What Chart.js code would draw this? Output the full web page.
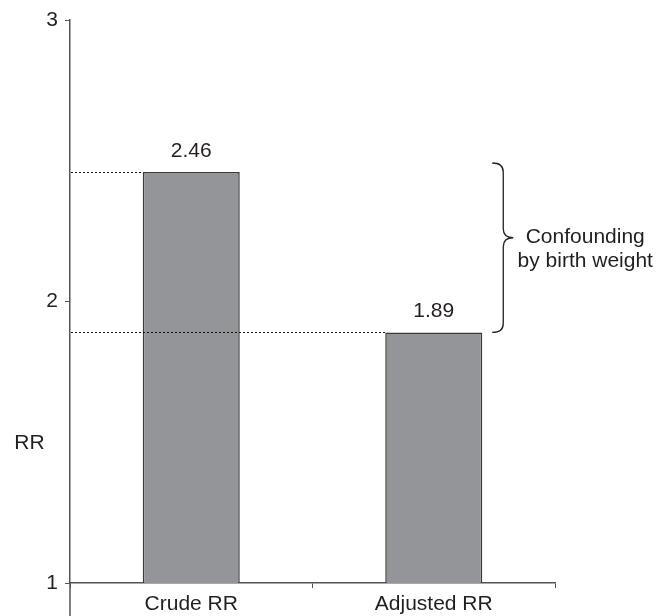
<!DOCTYPE html>
<html>
<head>
<meta charset="utf-8">
<script src="https://cdn.jsdelivr.net/npm/chart.js@4.4.1/dist/chart.umd.min.js"></script>
<style>
  html, body { margin: 0; padding: 0; background: #ffffff; }
  #wrap { width: 667px; height: 616px; position: relative; }
</style>
</head>
<body>
<div id="wrap"><canvas id="c" width="667" height="616"></canvas></div>
<script>
const categories = ["Crude RR", "Adjusted RR"];
const rrValues = [2.46, 1.89];
const valueLabels = ["2.46", "1.89"];
const yTicks = [1, 2, 3];
const yAxisLabel = "RR";
const braceLines = ["Confounding", "by birth weight"];

const FONT = "'Liberation Sans', Arial, Helvetica, sans-serif";
const TXT = "#231f20";
const FS = 21;

const annotate = {
  id: "annotate",
  afterDatasetsDraw(chart) {
    const ctx = chart.ctx;
    const ys = chart.scales.y;
    const area = chart.chartArea;
    const meta = chart.getDatasetMeta(0);
    ctx.save();
    // y-axis line continues below the x axis
    ctx.strokeStyle = "#555";
    ctx.lineWidth = 1.5;
    ctx.beginPath();
    ctx.moveTo(area.left, area.bottom);
    ctx.lineTo(area.left, chart.height);
    ctx.stroke();
    // dotted reference lines
    ctx.strokeStyle = "#111";
    ctx.lineWidth = 1;
    ctx.setLineDash([2, 2]);
    meta.data.forEach((bar, i) => {
      const y = Math.round(ys.getPixelForValue(rrValues[i])) + 0.5;
      const left = bar.x - bar.width / 2;
      ctx.beginPath();
      ctx.moveTo(area.left + 1, y);
      ctx.lineTo(left, y);
      ctx.stroke();
    });
    ctx.setLineDash([]);
    // value labels
    ctx.fillStyle = TXT;
    ctx.font = FS + "px " + FONT;
    ctx.textAlign = "center";
    ctx.textBaseline = "alphabetic";
    meta.data.forEach((bar, i) => {
      ctx.fillText(valueLabels[i], bar.x, bar.y - 15);
    });
    // brace
    const adjBar = meta.data[1];
    const x0 = adjBar.x + adjBar.width / 2 + 10;
    const x1 = x0 + 11;
    const x2 = x0 + 21;
    const top = ys.getPixelForValue(rrValues[0]) - 9;
    const bottom = ys.getPixelForValue(rrValues[1]);
    const mid = (top + bottom) / 2 - 10;
    const r = 9;
    ctx.strokeStyle = "#231f20";
    ctx.lineWidth = 1.3;
    ctx.beginPath();
    ctx.moveTo(x0, top);
    ctx.quadraticCurveTo(x1, top, x1, top + r);
    ctx.lineTo(x1, mid - r);
    ctx.quadraticCurveTo(x1, mid, x2, mid);
    ctx.quadraticCurveTo(x1, mid, x1, mid + r);
    ctx.lineTo(x1, bottom - r);
    ctx.quadraticCurveTo(x1, bottom, x0, bottom);
    ctx.stroke();
    // brace text
    const tx = x2 + 72;
    ctx.fillText(braceLines[0], tx, mid + 5);
    ctx.fillText(braceLines[1], tx, mid + 29);
    // RR axis label
    ctx.fillText(yAxisLabel, 29.5, ys.getPixelForValue(1.5) + 7);
    ctx.restore();
  }
};

new Chart(document.getElementById("c"), {
  type: "bar",
  data: {
    labels: categories,
    datasets: [{
      data: rrValues,
      backgroundColor: "#939598",
      borderColor: "#3a3a3a",
      borderWidth: 1.5,
      borderSkipped: "bottom",
      barPercentage: 0.4,
      categoryPercentage: 1.0
    }]
  },
  options: {
    responsive: false,
    animation: false,
    devicePixelRatio: 1,
    layout: { padding: { top: 20, right: 112, left: 0, bottom: 0 } },
    plugins: { legend: { display: false }, tooltip: { enabled: false } },
    scales: {
      x: {
        afterFit(s) { s.height = 33; },
        grid: { drawOnChartArea: false, drawTicks: true, tickLength: 5, color: "#555", offset: true },
        border: { color: "#555", width: 1.5 },
        ticks: { color: TXT, font: { size: FS, family: FONT }, padding: 4, maxRotation: 0 }
      },
      y: {
        min: 1, max: 3,
        afterFit(s) { s.width = 70; },
        afterBuildTicks(s) { s.ticks = yTicks.map(v => ({ value: v })); },
        grid: { drawOnChartArea: false, drawTicks: true, tickLength: 5, color: "#555" },
        border: { color: "#555", width: 1.5 },
        ticks: { color: TXT, font: { size: FS, family: FONT }, padding: 7 }
      }
    }
  },
  plugins: [annotate]
});
</script>
</body>
</html>
